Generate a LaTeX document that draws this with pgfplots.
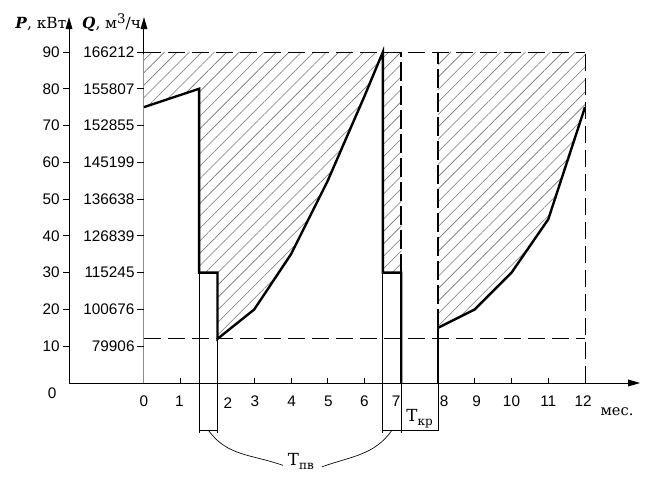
\documentclass[border=0pt]{standalone}
\usepackage{pgfplots}
\pgfplotsset{compat=1.18}
\usepackage{fontspec}
\setmainfont{DejaVu Serif}
\newfontfamily\numfont{Liberation Sans}
\usetikzlibrary{patterns.meta,arrows.meta}
\tikzset{
  nl/.style={anchor=center, inner sep=0pt, font=\fontsize{11.5}{13}\numfont},
  yl/.style={anchor=east, inner sep=0pt, font=\fontsize{11.5}{13}\numfont},
  tk/.style={line width=0.7pt},
}
\begin{document}
\begin{tikzpicture}
\begin{axis}[x=27.5625pt, y=2.7585pt, xmin=-4, xmax=14, ymin=-26, ymax=105,
  hide axis, clip=false]
% bounding box corners
\coordinate (bl) at (axis cs:-3.918,-25.83);
\coordinate (tr) at (axis cs:13.932,104.13);
% hatched regions
\addplot[draw=none, pattern={Lines[angle=45,distance=6.6pt,line width=0.45pt]}, pattern color=black!55]
 coordinates {(0,90) (0,75) (1.5,80) (1.5,30) (2,30) (2,12) (3,20) (4,35) (5,55) (6,78) (6.5,90) (6.5,30) (7,30) (7,90)};
\addplot[draw=none, pattern={Lines[angle=45,distance=6.6pt,line width=0.45pt]}, pattern color=black!55]
 coordinates {(8,90) (8,15) (9,20) (10,30) (11,44.5) (12,75) (12,90)};
% thin dashed reference lines
\addplot[black, line width=0.6pt, dash pattern=on 13pt off 5pt] coordinates {(0,90) (12,90)};
\addplot[black, line width=0.6pt, dash pattern=on 13pt off 5pt] coordinates {(0,12) (12,12)};
\addplot[black, line width=0.6pt, dash pattern=on 13pt off 5pt] coordinates {(12,0) (12,90)};
% axes
\draw[line width=0.75pt, -{Triangle[length=9pt,width=5pt]}] (-2.04,0) -- (13.5,0);
\draw[line width=0.75pt, -{Triangle[length=9pt,width=5pt]}] (-2.04,0) -- (-2.04,99.5);
\draw[line width=0.75pt, black!45] (0,0) -- (0,90);
\draw[line width=0.75pt, -{Triangle[length=9pt,width=5pt]}] (0,89.5) -- (0,99.5);
% Y ticks
\draw[tk] (-2.2,10) -- (-2.04,10); \draw[tk] (-0.19,10) -- (0,10);
\draw[tk] (-2.2,20) -- (-2.04,20); \draw[tk] (-0.19,20) -- (0,20);
\draw[tk] (-2.2,30) -- (-2.04,30); \draw[tk] (-0.19,30) -- (0,30);
\draw[tk] (-2.2,40) -- (-2.04,40); \draw[tk] (-0.19,40) -- (0,40);
\draw[tk] (-2.2,50) -- (-2.04,50); \draw[tk] (-0.19,50) -- (0,50);
\draw[tk] (-2.2,60) -- (-2.04,60); \draw[tk] (-0.19,60) -- (0,60);
\draw[tk] (-2.2,70) -- (-2.04,70); \draw[tk] (-0.19,70) -- (0,70);
\draw[tk] (-2.2,80) -- (-2.04,80); \draw[tk] (-0.19,80) -- (0,80);
\draw[tk] (-2.2,90) -- (-2.04,90); \draw[tk] (-0.19,90) -- (0,90);
% Y labels
\node[yl] at (-2.29,10) {10}; \node[yl] at (-0.25,10) {79906};
\node[yl] at (-2.29,20) {20}; \node[yl] at (-0.25,20) {100676};
\node[yl] at (-2.29,30) {30}; \node[yl] at (-0.25,30) {115245};
\node[yl] at (-2.29,40) {40}; \node[yl] at (-0.25,40) {126839};
\node[yl] at (-2.29,50) {50}; \node[yl] at (-0.25,50) {136638};
\node[yl] at (-2.29,60) {60}; \node[yl] at (-0.25,60) {145199};
\node[yl] at (-2.29,70) {70}; \node[yl] at (-0.25,70) {152855};
\node[yl] at (-2.29,80) {80}; \node[yl] at (-0.25,80) {155807};
\node[yl] at (-2.29,90) {90}; \node[yl] at (-0.25,90) {166212};
\node[nl] at (-2.5,-2.7) {0};
% X ticks
\draw[tk] (1,0) -- (1,1.3); \draw[tk] (2,0) -- (2,1.3); \draw[tk] (3,0) -- (3,1.3);
\draw[tk] (4,0) -- (4,1.3); \draw[tk] (5,0) -- (5,1.3); \draw[tk] (6,0) -- (6,1.3);
\draw[tk] (9,0) -- (9,1.3); \draw[tk] (10,0) -- (10,1.3); \draw[tk] (11,0) -- (11,1.3);
% X labels
\node[nl] at (0,-5.0) {0};
\node[nl] at (0.96,-5.0) {1};
\node[nl] at (2.28,-5.4) {2};
\node[nl] at (3.02,-5.0) {3};
\node[nl] at (4.02,-5.0) {4};
\node[nl] at (5.02,-5.0) {5};
\node[nl] at (6.0,-5.0) {6};
\node[nl] at (6.86,-5.0) {7};
\node[nl] at (8.17,-5.0) {8};
\node[nl] at (9.05,-5.0) {9};
\node[nl] at (10.0,-5.0) {10};
\node[nl] at (11.0,-5.0) {11};
\node[nl] at (11.95,-5.0) {12};
\node[anchor=center, inner sep=0pt, font=\fontsize{11}{13}\selectfont] at (12.87,-7.9) {мес.};
% axis titles
\node[anchor=base west, inner sep=0pt, font=\fontsize{11.5}{13}\selectfont] at (-3.51,96.5) {\textbf{\textit{P}}, кВт};
\node[anchor=base west, inner sep=0pt, font=\fontsize{11.5}{13}\selectfont] at (-1.69,96.5) {\textbf{\textit{Q}}, м\raisebox{0.55ex}{\fontsize{10}{12}\selectfont 3}/ч};
% brackets below axis
\draw[line width=0.6pt] (1.5,30) -- (1.5,-12.8) -- (2,-12.8) -- (2,12);
\draw[line width=0.6pt] (1.5,-12.8) -- (1.5,-13.6);
\draw[line width=0.6pt] (2,-12.8) -- (2,-13.6);
\draw[line width=0.6pt] (6.5,30) -- (6.5,-12.8) -- (8,-12.8) -- (8,0);
\draw[line width=0.6pt] (7,0) -- (7,-13.6);
\draw[line width=0.6pt] (6.5,-12.8) -- (6.5,-13.6);
\node[anchor=center, inner sep=0pt, font=\fontsize{12.5}{14}\selectfont] at (7.5,-9.6) {T\raisebox{-0.45ex}{\fontsize{9}{10}\selectfont кр}};
\node[anchor=center, inner sep=0pt, font=\fontsize{12.5}{14}\selectfont] at (4.27,-21.2) {T\raisebox{-0.45ex}{\fontsize{9}{10}\selectfont пв}};
\draw[line width=0.5pt] (1.75,-12.8) to[out=-55,in=160] (3.78,-22.4);
\draw[line width=0.5pt] (6.75,-12.8) to[out=-125,in=20] (4.84,-22.8);
% main thick curves
\addplot[black, line width=1.8pt, line join=miter] coordinates {(0,75) (1.5,80) (1.5,30) (2,30) (2,12) (3,20) (4,35) (5,55) (6,78) (6.5,90) (6.5,30) (7,30) (7,0)};
\addplot[black, line width=1.8pt, dash pattern=on 14pt off 4pt] coordinates {(7,30) (7,90)};
\addplot[black, line width=1.8pt] coordinates {(8,0) (8,15)};
\addplot[black, line width=1.8pt, dash pattern=on 14pt off 4pt] coordinates {(8,15) (8,90)};
\addplot[black, line width=1.8pt] coordinates {(8,15) (9,20) (10,30) (11,44.5) (12,75)};
\end{axis}
\pgfresetboundingbox
\path[use as bounding box] (bl) rectangle (tr);
\end{tikzpicture}
\end{document}
